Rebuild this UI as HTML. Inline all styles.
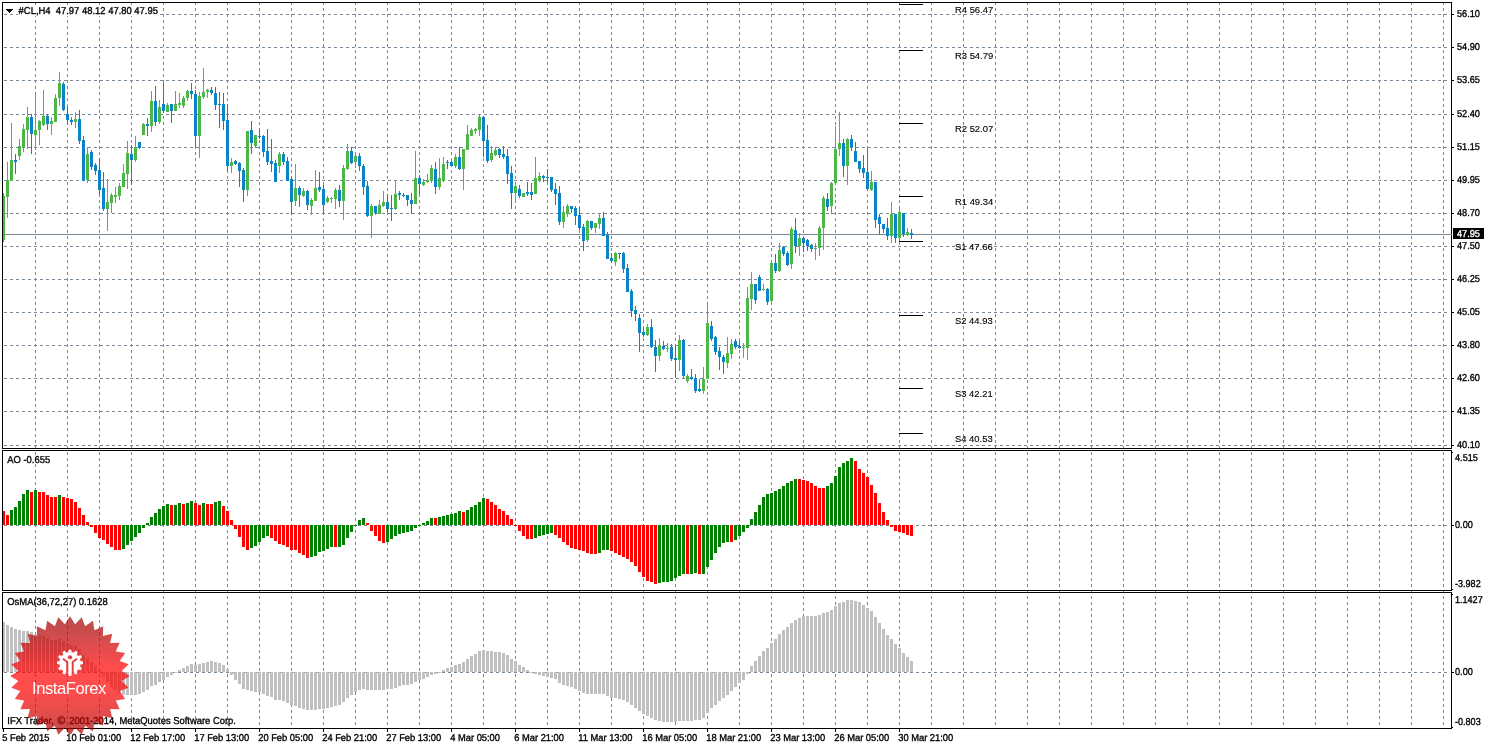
<!DOCTYPE html>
<html lang="en">
<head>
<meta charset="utf-8">
<title>#CL, H4 chart</title>
<style>
html,body{margin:0;padding:0;background:#fff;}
body{width:1491px;height:746px;overflow:hidden;font-family:"Liberation Sans",Arial,sans-serif;}
svg{display:block;}
text{white-space:pre;}
</style>
</head>
<body>
<svg width="1491" height="746" viewBox="0 0 1491 746">
<rect width="1491" height="746" fill="#fff"/>
<g id="grid" fill="none" stroke="#778899" stroke-width="1" stroke-dasharray="3 3" shape-rendering="crispEdges">
<line x1="35.5" y1="2" x2="35.5" y2="728"/>
<line x1="67.5" y1="2" x2="67.5" y2="728"/>
<line x1="99.5" y1="2" x2="99.5" y2="728"/>
<line x1="131.5" y1="2" x2="131.5" y2="728"/>
<line x1="163.5" y1="2" x2="163.5" y2="728"/>
<line x1="195.5" y1="2" x2="195.5" y2="728"/>
<line x1="227.5" y1="2" x2="227.5" y2="728"/>
<line x1="259.5" y1="2" x2="259.5" y2="728"/>
<line x1="291.5" y1="2" x2="291.5" y2="728"/>
<line x1="323.5" y1="2" x2="323.5" y2="728"/>
<line x1="355.5" y1="2" x2="355.5" y2="728"/>
<line x1="387.5" y1="2" x2="387.5" y2="728"/>
<line x1="419.5" y1="2" x2="419.5" y2="728"/>
<line x1="451.5" y1="2" x2="451.5" y2="728"/>
<line x1="483.5" y1="2" x2="483.5" y2="728"/>
<line x1="515.5" y1="2" x2="515.5" y2="728"/>
<line x1="547.5" y1="2" x2="547.5" y2="728"/>
<line x1="579.5" y1="2" x2="579.5" y2="728"/>
<line x1="611.5" y1="2" x2="611.5" y2="728"/>
<line x1="643.5" y1="2" x2="643.5" y2="728"/>
<line x1="675.5" y1="2" x2="675.5" y2="728"/>
<line x1="707.5" y1="2" x2="707.5" y2="728"/>
<line x1="739.5" y1="2" x2="739.5" y2="728"/>
<line x1="771.5" y1="2" x2="771.5" y2="728"/>
<line x1="803.5" y1="2" x2="803.5" y2="728"/>
<line x1="835.5" y1="2" x2="835.5" y2="728"/>
<line x1="867.5" y1="2" x2="867.5" y2="728"/>
<line x1="899.5" y1="2" x2="899.5" y2="728"/>
<line x1="931.5" y1="2" x2="931.5" y2="728"/>
<line x1="963.5" y1="2" x2="963.5" y2="728"/>
<line x1="995.5" y1="2" x2="995.5" y2="728"/>
<line x1="1027.5" y1="2" x2="1027.5" y2="728"/>
<line x1="1059.5" y1="2" x2="1059.5" y2="728"/>
<line x1="1091.5" y1="2" x2="1091.5" y2="728"/>
<line x1="1123.5" y1="2" x2="1123.5" y2="728"/>
<line x1="1155.5" y1="2" x2="1155.5" y2="728"/>
<line x1="1187.5" y1="2" x2="1187.5" y2="728"/>
<line x1="1219.5" y1="2" x2="1219.5" y2="728"/>
<line x1="1251.5" y1="2" x2="1251.5" y2="728"/>
<line x1="1283.5" y1="2" x2="1283.5" y2="728"/>
<line x1="1315.5" y1="2" x2="1315.5" y2="728"/>
<line x1="1347.5" y1="2" x2="1347.5" y2="728"/>
<line x1="1379.5" y1="2" x2="1379.5" y2="728"/>
<line x1="1411.5" y1="2" x2="1411.5" y2="728"/>
<line x1="1443.5" y1="2" x2="1443.5" y2="728"/>
<line x1="4" y1="14.5" x2="1450" y2="14.5"/>
<line x1="4" y1="47.5" x2="1450" y2="47.5"/>
<line x1="4" y1="80.5" x2="1450" y2="80.5"/>
<line x1="4" y1="114.5" x2="1450" y2="114.5"/>
<line x1="4" y1="147.5" x2="1450" y2="147.5"/>
<line x1="4" y1="180.5" x2="1450" y2="180.5"/>
<line x1="4" y1="213.5" x2="1450" y2="213.5"/>
<line x1="4" y1="246.5" x2="1450" y2="246.5"/>
<line x1="4" y1="279.5" x2="1450" y2="279.5"/>
<line x1="4" y1="312.5" x2="1450" y2="312.5"/>
<line x1="4" y1="345.5" x2="1450" y2="345.5"/>
<line x1="4" y1="378.5" x2="1450" y2="378.5"/>
<line x1="4" y1="411.5" x2="1450" y2="411.5"/>
<line x1="4" y1="445.5" x2="1450" y2="445.5"/>
<line x1="4" y1="525.5" x2="1450" y2="525.5"/>
<line x1="4" y1="672.5" x2="1450" y2="672.5"/>
</g>
<g id="priceline" shape-rendering="crispEdges"><rect x="3" y="234" width="1448" height="1" fill="#778899"/></g>
<g id="candles" shape-rendering="crispEdges">
<path fill="#4CB744" d="M3 193h1v49h-1zM2 196h3v44h-3zM7 162h1v56h-1zM6 180h3v17h-3zM11 123h1v58h-1zM10 160h3v21h-3zM19 139h1v21h-1zM18 146h3v10h-3zM23 124h1v28h-1zM22 129h3v18h-3zM27 107h1v42h-1zM26 117h3v13h-3zM35 94h1v56h-1zM34 130h3v5h-3zM39 120h1v25h-1zM38 121h3v9h-3zM43 90h1v36h-1zM42 116h3v9h-3zM51 117h1v18h-1zM50 121h3v3h-3zM55 94h1v28h-1zM54 98h3v24h-3zM59 72h1v34h-1zM58 83h3v15h-3zM75 112h1v16h-1zM74 119h3v3h-3zM87 147h1v36h-1zM86 154h3v26h-3zM107 179h1v52h-1zM106 202h3v7h-3zM111 193h1v20h-1zM110 195h3v8h-3zM115 187h1v16h-1zM114 195h3v2h-3zM119 183h1v17h-1zM118 186h3v10h-3zM123 164h1v23h-1zM122 173h3v14h-3zM127 141h1v48h-1zM126 153h3v21h-3zM135 136h1v26h-1zM134 147h3v13h-3zM143 123h1v12h-1zM142 124h3v11h-3zM151 91h1v41h-1zM150 101h3v25h-3zM159 100h1v24h-1zM158 107h3v15h-3zM167 103h1v9h-1zM166 105h3v7h-3zM175 91h1v20h-1zM174 104h3v7h-3zM179 93h1v15h-1zM178 103h3v2h-3zM183 96h1v12h-1zM182 98h3v8h-3zM187 90h1v11h-1zM186 91h3v7h-3zM199 92h1v66h-1zM198 96h3v40h-3zM203 68h1v31h-1zM202 92h3v5h-3zM207 89h1v9h-1zM206 90h3v2h-3zM231 158h1v15h-1zM230 162h3v4h-3zM247 131h1v65h-1zM246 131h3v59h-3zM255 135h1v13h-1zM254 135h3v11h-3zM279 152h1v21h-1zM278 154h3v12h-3zM295 164h1v42h-1zM294 188h3v13h-3zM303 188h1v9h-1zM302 191h3v5h-3zM311 198h1v17h-1zM310 200h3v6h-3zM315 170h1v31h-1zM314 188h3v13h-3zM327 196h1v7h-1zM326 198h3v4h-3zM331 197h1v6h-1zM330 198h3v1h-3zM335 188h1v21h-1zM334 190h3v9h-3zM343 165h1v55h-1zM342 168h3v33h-3zM347 144h1v26h-1zM346 151h3v18h-3zM355 154h1v14h-1zM354 156h3v6h-3zM371 204h1v34h-1zM370 206h3v10h-3zM379 200h1v14h-1zM378 205h3v9h-3zM383 191h1v16h-1zM382 202h3v4h-3zM395 180h1v30h-1zM394 194h3v15h-3zM415 151h1v53h-1zM414 178h3v26h-3zM423 179h1v7h-1zM422 182h3v3h-3zM427 174h1v9h-1zM426 180h3v2h-3zM431 165h1v18h-1zM430 168h3v13h-3zM439 158h1v32h-1zM438 178h3v9h-3zM443 157h1v25h-1zM442 164h3v17h-3zM455 154h1v14h-1zM454 157h3v9h-3zM463 149h1v41h-1zM462 149h3v20h-3zM467 125h1v25h-1zM466 134h3v16h-3zM471 128h1v8h-1zM470 130h3v6h-3zM475 128h1v6h-1zM474 129h3v2h-3zM479 114h1v22h-1zM478 117h3v13h-3zM491 146h1v16h-1zM490 153h3v7h-3zM495 147h1v9h-1zM494 150h3v5h-3zM515 185h1v16h-1zM514 186h3v7h-3zM523 193h1v4h-1zM522 193h3v4h-3zM535 157h1v37h-1zM534 178h3v16h-3zM539 172h1v10h-1zM538 176h3v4h-3zM563 206h1v22h-1zM562 212h3v10h-3zM567 204h1v13h-1zM566 206h3v8h-3zM587 220h1v22h-1zM586 221h3v19h-3zM595 223h1v10h-1zM594 223h3v5h-3zM599 214h1v15h-1zM598 218h3v6h-3zM615 252h1v14h-1zM614 253h3v9h-3zM647 324h1v12h-1zM646 327h3v8h-3zM659 338h1v23h-1zM658 345h3v11h-3zM667 343h1v9h-1zM666 348h3v1h-3zM679 335h1v36h-1zM678 340h3v20h-3zM687 374h1v9h-1zM686 376h3v5h-3zM703 367h1v27h-1zM702 379h3v12h-3zM707 304h1v75h-1zM706 323h3v56h-3zM727 337h1v31h-1zM726 353h3v10h-3zM731 339h1v20h-1zM730 344h3v10h-3zM743 343h1v15h-1zM742 347h3v1h-3zM747 287h1v73h-1zM746 298h3v50h-3zM751 272h1v38h-1zM750 284h3v15h-3zM763 284h1v7h-1zM762 289h3v1h-3zM771 261h1v42h-1zM770 263h3v38h-3zM779 243h1v29h-1zM778 250h3v21h-3zM791 227h1v42h-1zM790 229h3v35h-3zM799 233h1v23h-1zM798 238h3v8h-3zM815 243h1v17h-1zM814 248h3v1h-3zM819 226h1v30h-1zM818 228h3v20h-3zM823 196h1v54h-1zM822 198h3v30h-3zM831 182h1v32h-1zM830 183h3v23h-3zM835 126h1v59h-1zM834 149h3v34h-3zM839 112h1v44h-1zM838 143h3v6h-3zM847 138h1v47h-1zM846 139h3v27h-3zM871 171h1v20h-1zM870 182h3v8h-3zM891 202h1v41h-1zM890 214h3v22h-3zM899 209h1v34h-1zM898 212h3v26h-3zM907 228h1v8h-1zM906 232h3v3h-3z"/>
<path fill="#0A84C6" d="M15 154h1v20h-1zM14 160h3v2h-3zM31 114h1v40h-1zM30 117h3v17h-3zM47 114h1v16h-1zM46 116h3v8h-3zM63 82h1v29h-1zM62 84h3v26h-3zM67 107h1v18h-1zM66 114h3v6h-3zM71 117h1v8h-1zM70 120h3v2h-3zM79 110h1v34h-1zM78 119h3v22h-3zM83 136h1v45h-1zM82 140h3v41h-3zM91 150h1v20h-1zM90 152h3v15h-3zM95 163h1v12h-1zM94 165h3v6h-3zM99 158h1v36h-1zM98 170h3v20h-3zM103 172h1v39h-1zM102 188h3v21h-3zM131 145h1v40h-1zM130 154h3v6h-3zM139 142h1v7h-1zM138 142h3v6h-3zM147 118h1v18h-1zM146 124h3v2h-3zM155 86h1v40h-1zM154 101h3v21h-3zM163 83h1v30h-1zM162 104h3v7h-3zM171 104h1v19h-1zM170 104h3v7h-3zM191 83h1v16h-1zM190 91h3v3h-3zM195 90h1v57h-1zM194 94h3v42h-3zM211 87h1v8h-1zM210 90h3v3h-3zM215 87h1v23h-1zM214 93h3v12h-3zM219 92h1v36h-1zM218 104h3v1h-3zM223 93h1v37h-1zM222 104h3v17h-3zM227 105h1v66h-1zM226 120h3v46h-3zM235 160h1v5h-1zM234 161h3v3h-3zM239 162h1v25h-1zM238 163h3v8h-3zM243 168h1v34h-1zM242 170h3v20h-3zM251 121h1v33h-1zM250 130h3v13h-3zM259 128h1v11h-1zM258 136h3v1h-3zM263 135h1v22h-1zM262 136h3v16h-3zM267 129h1v36h-1zM266 151h3v11h-3zM271 139h1v33h-1zM270 161h3v3h-3zM275 160h1v22h-1zM274 163h3v19h-3zM283 152h1v13h-1zM282 154h3v8h-3zM287 157h1v24h-1zM286 161h3v20h-3zM291 177h1v38h-1zM290 179h3v23h-3zM299 186h1v21h-1zM298 188h3v7h-3zM307 190h1v20h-1zM306 191h3v14h-3zM319 172h1v20h-1zM318 187h3v3h-3zM323 185h1v29h-1zM322 189h3v16h-3zM339 185h1v22h-1zM338 190h3v11h-3zM351 147h1v17h-1zM350 151h3v12h-3zM359 153h1v18h-1zM358 156h3v10h-3zM363 164h1v31h-1zM362 166h3v21h-3zM367 181h1v36h-1zM366 186h3v30h-3zM375 206h1v9h-1zM374 206h3v7h-3zM387 194h1v18h-1zM386 202h3v7h-3zM391 195h1v26h-1zM390 208h3v1h-3zM399 191h1v9h-1zM398 193h3v2h-3zM403 193h1v4h-1zM402 195h3v1h-3zM407 195h1v11h-1zM406 195h3v5h-3zM411 193h1v21h-1zM410 200h3v4h-3zM419 175h1v19h-1zM418 178h3v6h-3zM435 162h1v32h-1zM434 169h3v18h-3zM447 160h1v9h-1zM446 162h3v1h-3zM451 161h1v6h-1zM450 162h3v4h-3zM459 147h1v23h-1zM458 157h3v12h-3zM483 116h1v41h-1zM482 117h3v24h-3zM487 125h1v38h-1zM486 140h3v21h-3zM499 148h1v10h-1zM498 149h3v6h-3zM503 146h1v13h-1zM502 154h3v3h-3zM507 149h1v35h-1zM506 156h3v18h-3zM511 166h1v43h-1zM510 173h3v20h-3zM519 185h1v13h-1zM518 189h3v7h-3zM527 182h1v14h-1zM526 192h3v2h-3zM531 183h1v17h-1zM530 192h3v3h-3zM543 175h1v7h-1zM542 176h3v2h-3zM547 169h1v13h-1zM546 177h3v1h-3zM551 177h1v15h-1zM550 177h3v13h-3zM555 183h1v22h-1zM554 189h3v5h-3zM559 186h1v39h-1zM558 193h3v29h-3zM571 206h1v7h-1zM570 206h3v3h-3zM575 206h1v19h-1zM574 208h3v8h-3zM579 207h1v23h-1zM578 215h3v13h-3zM583 224h1v27h-1zM582 227h3v14h-3zM591 221h1v9h-1zM590 221h3v7h-3zM603 212h1v24h-1zM602 218h3v18h-3zM607 232h1v27h-1zM606 235h3v24h-3zM611 253h1v10h-1zM610 258h3v3h-3zM619 253h1v6h-1zM618 253h3v1h-3zM623 252h1v21h-1zM622 253h3v16h-3zM627 264h1v28h-1zM626 268h3v24h-3zM631 289h1v28h-1zM630 291h3v20h-3zM635 306h1v15h-1zM634 310h3v4h-3zM639 314h1v38h-1zM638 318h3v15h-3zM643 328h1v9h-1zM642 332h3v3h-3zM651 319h1v29h-1zM650 327h3v20h-3zM655 340h1v32h-1zM654 347h3v9h-3zM663 341h1v9h-1zM662 346h3v3h-3zM671 344h1v17h-1zM670 347h3v12h-3zM675 346h1v32h-1zM674 358h3v2h-3zM683 339h1v39h-1zM682 340h3v36h-3zM691 369h1v11h-1zM690 377h3v2h-3zM695 374h1v19h-1zM694 378h3v13h-3zM699 379h1v13h-1zM698 389h3v2h-3zM711 321h1v20h-1zM710 326h3v13h-3zM715 336h1v19h-1zM714 337h3v15h-3zM719 347h1v23h-1zM718 351h3v6h-3zM723 355h1v19h-1zM722 357h3v5h-3zM735 339h1v10h-1zM734 341h3v6h-3zM739 341h1v8h-1zM738 346h3v2h-3zM755 284h1v20h-1zM754 284h3v16h-3zM759 275h1v16h-1zM758 277h3v14h-3zM767 288h1v17h-1zM766 289h3v13h-3zM775 254h1v19h-1zM774 263h3v8h-3zM783 246h1v10h-1zM782 247h3v7h-3zM787 251h1v15h-1zM786 253h3v12h-3zM795 218h1v35h-1zM794 230h3v16h-3zM803 237h1v15h-1zM802 238h3v5h-3zM807 239h1v12h-1zM806 240h3v6h-3zM811 244h1v8h-1zM810 245h3v4h-3zM827 193h1v18h-1zM826 199h3v8h-3zM843 139h1v38h-1zM842 143h3v23h-3zM851 135h1v16h-1zM850 139h3v8h-3zM855 142h1v20h-1zM854 151h3v11h-3zM859 161h1v12h-1zM858 161h3v8h-3zM863 155h1v23h-1zM862 168h3v5h-3zM867 149h1v42h-1zM866 172h3v17h-3zM875 182h1v46h-1zM874 182h3v38h-3zM879 214h1v20h-1zM878 217h3v7h-3zM883 224h1v9h-1zM882 224h3v5h-3zM887 218h1v22h-1zM886 228h3v8h-3zM895 214h1v29h-1zM894 214h3v24h-3zM903 213h1v24h-1zM902 213h3v21h-3zM911 229h1v10h-1zM910 233h3v2h-3z"/>
</g>
<g id="ao" shape-rendering="crispEdges">
<path fill="#008000" d="M10 510h3v15h-3zM14 507h3v18h-3zM18 501h3v24h-3zM22 494h3v31h-3zM26 490h3v35h-3zM34 490h3v35h-3zM58 495h3v30h-3zM122 525h3v24h-3zM126 525h3v20h-3zM130 525h3v16h-3zM134 525h3v12h-3zM138 525h3v8h-3zM142 525h3v3h-3zM146 523h3v2h-3zM150 517h3v8h-3zM154 513h3v12h-3zM158 509h3v16h-3zM162 506h3v19h-3zM166 504h3v21h-3zM174 505h3v20h-3zM178 503h3v22h-3zM186 503h3v22h-3zM190 501h3v24h-3zM202 503h3v22h-3zM214 502h3v23h-3zM218 501h3v24h-3zM250 525h3v23h-3zM254 525h3v21h-3zM258 525h3v17h-3zM262 525h3v13h-3zM266 525h3v11h-3zM310 525h3v32h-3zM314 525h3v31h-3zM318 525h3v27h-3zM322 525h3v26h-3zM326 525h3v24h-3zM330 525h3v22h-3zM338 525h3v22h-3zM342 525h3v20h-3zM346 525h3v13h-3zM350 525h3v7h-3zM354 525h3v1h-3zM358 520h3v5h-3zM362 518h3v7h-3zM386 525h3v17h-3zM390 525h3v14h-3zM394 525h3v11h-3zM398 525h3v9h-3zM402 525h3v8h-3zM406 525h3v7h-3zM410 525h3v6h-3zM414 525h3v3h-3zM418 525h3v1h-3zM422 523h3v2h-3zM426 521h3v4h-3zM430 518h3v7h-3zM438 517h3v8h-3zM442 516h3v9h-3zM446 515h3v10h-3zM450 514h3v11h-3zM454 513h3v12h-3zM458 511h3v14h-3zM466 510h3v15h-3zM470 507h3v18h-3zM474 505h3v20h-3zM478 502h3v23h-3zM482 498h3v27h-3zM534 525h3v13h-3zM538 525h3v11h-3zM542 525h3v10h-3zM546 525h3v9h-3zM550 525h3v8h-3zM598 525h3v28h-3zM602 525h3v25h-3zM606 525h3v25h-3zM658 525h3v58h-3zM662 525h3v57h-3zM666 525h3v57h-3zM670 525h3v56h-3zM674 525h3v53h-3zM678 525h3v51h-3zM682 525h3v49h-3zM690 525h3v49h-3zM694 525h3v48h-3zM702 525h3v49h-3zM706 525h3v42h-3zM710 525h3v35h-3zM714 525h3v28h-3zM718 525h3v22h-3zM722 525h3v18h-3zM726 525h3v17h-3zM734 525h3v15h-3zM738 525h3v11h-3zM742 525h3v7h-3zM746 525h3v3h-3zM750 519h3v6h-3zM754 512h3v13h-3zM758 505h3v20h-3zM762 497h3v28h-3zM766 494h3v31h-3zM770 493h3v32h-3zM774 491h3v34h-3zM778 489h3v36h-3zM782 486h3v39h-3zM786 483h3v42h-3zM790 481h3v44h-3zM794 479h3v46h-3zM826 486h3v39h-3zM830 483h3v42h-3zM834 476h3v49h-3zM838 467h3v58h-3zM842 463h3v62h-3zM846 461h3v64h-3zM850 458h3v67h-3z"/>
<path fill="#FF0000" d="M2 511h3v14h-3zM6 515h3v10h-3zM30 492h3v33h-3zM38 492h3v33h-3zM42 492h3v33h-3zM46 495h3v30h-3zM50 497h3v28h-3zM54 497h3v28h-3zM62 497h3v28h-3zM66 498h3v27h-3zM70 499h3v26h-3zM74 502h3v23h-3zM78 508h3v17h-3zM82 515h3v10h-3zM86 522h3v3h-3zM90 525h3v2h-3zM94 525h3v8h-3zM98 525h3v13h-3zM102 525h3v15h-3zM106 525h3v19h-3zM110 525h3v22h-3zM114 525h3v25h-3zM118 525h3v25h-3zM170 505h3v20h-3zM182 504h3v21h-3zM194 503h3v22h-3zM198 505h3v20h-3zM206 504h3v21h-3zM210 504h3v21h-3zM222 506h3v19h-3zM226 511h3v14h-3zM230 520h3v5h-3zM234 525h3v4h-3zM238 525h3v12h-3zM242 525h3v22h-3zM246 525h3v25h-3zM270 525h3v13h-3zM274 525h3v16h-3zM278 525h3v19h-3zM282 525h3v20h-3zM286 525h3v22h-3zM290 525h3v25h-3zM294 525h3v25h-3zM298 525h3v28h-3zM302 525h3v30h-3zM306 525h3v33h-3zM334 525h3v22h-3zM366 523h3v2h-3zM370 525h3v6h-3zM374 525h3v11h-3zM378 525h3v16h-3zM382 525h3v18h-3zM434 518h3v7h-3zM462 512h3v13h-3zM486 499h3v26h-3zM490 502h3v23h-3zM494 505h3v20h-3zM498 509h3v16h-3zM502 511h3v14h-3zM506 515h3v10h-3zM510 519h3v6h-3zM514 525h3v1h-3zM518 525h3v6h-3zM522 525h3v11h-3zM526 525h3v14h-3zM530 525h3v14h-3zM554 525h3v10h-3zM558 525h3v13h-3zM562 525h3v17h-3zM566 525h3v20h-3zM570 525h3v23h-3zM574 525h3v24h-3zM578 525h3v25h-3zM582 525h3v26h-3zM586 525h3v28h-3zM590 525h3v29h-3zM594 525h3v29h-3zM610 525h3v26h-3zM614 525h3v28h-3zM618 525h3v30h-3zM622 525h3v32h-3zM626 525h3v34h-3zM630 525h3v37h-3zM634 525h3v41h-3zM638 525h3v47h-3zM642 525h3v52h-3zM646 525h3v56h-3zM650 525h3v57h-3zM654 525h3v59h-3zM686 525h3v49h-3zM698 525h3v49h-3zM730 525h3v17h-3zM798 479h3v46h-3zM802 480h3v45h-3zM806 481h3v44h-3zM810 483h3v42h-3zM814 486h3v39h-3zM818 488h3v37h-3zM822 488h3v37h-3zM854 461h3v64h-3zM858 469h3v56h-3zM862 473h3v52h-3zM866 477h3v48h-3zM870 485h3v40h-3zM874 493h3v32h-3zM878 503h3v22h-3zM882 512h3v13h-3zM886 520h3v5h-3zM890 525h3v2h-3zM894 525h3v6h-3zM898 525h3v7h-3zM902 525h3v8h-3zM906 525h3v10h-3zM910 525h3v11h-3z"/>
</g>
<g id="osma" shape-rendering="crispEdges"><path fill="#C0C0C0" d="M2 622h3v50h-3zM6 625h3v47h-3zM10 627h3v45h-3zM14 629h3v43h-3zM18 630h3v42h-3zM22 631h3v41h-3zM26 631h3v41h-3zM30 632h3v40h-3zM34 634h3v38h-3zM38 635h3v37h-3zM42 636h3v36h-3zM46 638h3v34h-3zM50 640h3v32h-3zM54 640h3v32h-3zM58 639h3v33h-3zM62 641h3v31h-3zM66 643h3v29h-3zM70 645h3v27h-3zM74 646h3v26h-3zM78 649h3v23h-3zM82 655h3v17h-3zM86 658h3v14h-3zM90 662h3v10h-3zM94 666h3v6h-3zM98 670h3v2h-3zM102 672h3v5h-3zM106 672h3v10h-3zM110 672h3v15h-3zM114 672h3v18h-3zM118 672h3v21h-3zM122 672h3v23h-3zM126 672h3v23h-3zM130 672h3v23h-3zM134 672h3v23h-3zM138 672h3v22h-3zM142 672h3v20h-3zM146 672h3v18h-3zM150 672h3v14h-3zM154 672h3v13h-3zM158 672h3v10h-3zM162 672h3v8h-3zM166 672h3v5h-3zM170 672h3v3h-3zM174 672h3v1h-3zM178 670h3v2h-3zM182 668h3v4h-3zM186 666h3v6h-3zM190 664h3v8h-3zM194 665h3v7h-3zM198 664h3v8h-3zM202 663h3v9h-3zM206 662h3v10h-3zM210 661h3v11h-3zM214 662h3v10h-3zM218 663h3v9h-3zM222 665h3v7h-3zM226 669h3v3h-3zM230 672h3v3h-3zM234 672h3v8h-3zM238 672h3v12h-3zM242 672h3v17h-3zM246 672h3v18h-3zM250 672h3v19h-3zM254 672h3v20h-3zM258 672h3v20h-3zM262 672h3v22h-3zM266 672h3v24h-3zM270 672h3v25h-3zM274 672h3v28h-3zM278 672h3v28h-3zM282 672h3v29h-3zM286 672h3v31h-3zM290 672h3v33h-3zM294 672h3v34h-3zM298 672h3v36h-3zM302 672h3v37h-3zM306 672h3v38h-3zM310 672h3v38h-3zM314 672h3v38h-3zM318 672h3v37h-3zM322 672h3v37h-3zM326 672h3v36h-3zM330 672h3v35h-3zM334 672h3v34h-3zM338 672h3v33h-3zM342 672h3v30h-3zM346 672h3v26h-3zM350 672h3v23h-3zM354 672h3v20h-3zM358 672h3v18h-3zM362 672h3v17h-3zM366 672h3v18h-3zM370 672h3v18h-3zM374 672h3v18h-3zM378 672h3v18h-3zM382 672h3v18h-3zM386 672h3v17h-3zM390 672h3v17h-3zM394 672h3v16h-3zM398 672h3v14h-3zM402 672h3v13h-3zM406 672h3v13h-3zM410 672h3v12h-3zM414 672h3v10h-3zM418 672h3v8h-3zM422 672h3v7h-3zM426 672h3v5h-3zM430 672h3v3h-3zM434 672h3v2h-3zM438 672h3v1h-3zM442 670h3v2h-3zM446 668h3v4h-3zM450 667h3v5h-3zM454 665h3v7h-3zM458 664h3v8h-3zM462 662h3v10h-3zM466 659h3v13h-3zM470 656h3v16h-3zM474 654h3v18h-3zM478 651h3v21h-3zM482 650h3v22h-3zM486 651h3v21h-3zM490 651h3v21h-3zM494 652h3v20h-3zM498 652h3v20h-3zM502 653h3v19h-3zM506 655h3v17h-3zM510 659h3v13h-3zM514 661h3v11h-3zM518 665h3v7h-3zM522 667h3v5h-3zM526 670h3v2h-3zM530 672h3v1h-3zM534 672h3v2h-3zM538 672h3v3h-3zM542 672h3v4h-3zM546 672h3v5h-3zM550 672h3v6h-3zM554 672h3v7h-3zM558 672h3v11h-3zM562 672h3v13h-3zM566 672h3v14h-3zM570 672h3v15h-3zM574 672h3v17h-3zM578 672h3v19h-3zM582 672h3v21h-3zM586 672h3v22h-3zM590 672h3v22h-3zM594 672h3v22h-3zM598 672h3v22h-3zM602 672h3v22h-3zM606 672h3v24h-3zM610 672h3v26h-3zM614 672h3v26h-3zM618 672h3v27h-3zM622 672h3v28h-3zM626 672h3v30h-3zM630 672h3v33h-3zM634 672h3v36h-3zM638 672h3v39h-3zM642 672h3v42h-3zM646 672h3v44h-3zM650 672h3v46h-3zM654 672h3v48h-3zM658 672h3v49h-3zM662 672h3v50h-3zM666 672h3v50h-3zM670 672h3v50h-3zM674 672h3v50h-3zM678 672h3v49h-3zM682 672h3v49h-3zM686 672h3v49h-3zM690 672h3v49h-3zM694 672h3v48h-3zM698 672h3v48h-3zM702 672h3v46h-3zM706 672h3v41h-3zM710 672h3v36h-3zM714 672h3v33h-3zM718 672h3v29h-3zM722 672h3v26h-3zM726 672h3v23h-3zM730 672h3v19h-3zM734 672h3v15h-3zM738 672h3v11h-3zM742 672h3v8h-3zM746 672h3v2h-3zM750 666h3v6h-3zM754 661h3v11h-3zM758 656h3v16h-3zM762 651h3v21h-3zM766 648h3v24h-3zM770 643h3v29h-3zM774 639h3v33h-3zM778 634h3v38h-3zM782 630h3v42h-3zM786 627h3v45h-3zM790 623h3v49h-3zM794 620h3v52h-3zM798 618h3v54h-3zM802 616h3v56h-3zM806 616h3v56h-3zM810 616h3v56h-3zM814 616h3v56h-3zM818 615h3v57h-3zM822 613h3v59h-3zM826 612h3v60h-3zM830 610h3v62h-3zM834 606h3v66h-3zM838 603h3v69h-3zM842 602h3v70h-3zM846 600h3v72h-3zM850 600h3v72h-3zM854 601h3v71h-3zM858 602h3v70h-3zM862 605h3v67h-3zM866 608h3v64h-3zM870 611h3v61h-3zM874 617h3v55h-3zM878 623h3v49h-3zM882 629h3v43h-3zM886 635h3v37h-3zM890 639h3v33h-3zM894 644h3v28h-3zM898 648h3v24h-3zM902 653h3v19h-3zM906 657h3v15h-3zM910 661h3v11h-3z"/></g>
<g id="frame" shape-rendering="crispEdges"><rect x="899" y="4" width="24" height="1" fill="#000"/>
<rect x="899" y="50" width="24" height="1" fill="#000"/>
<rect x="899" y="123" width="24" height="1" fill="#000"/>
<rect x="899" y="196" width="24" height="1" fill="#000"/>
<rect x="899" y="241" width="24" height="1" fill="#000"/>
<rect x="899" y="315" width="24" height="1" fill="#000"/>
<rect x="899" y="388" width="24" height="1" fill="#000"/>
<rect x="899" y="433" width="24" height="1" fill="#000"/>
<rect x="3" y="449" width="1448" height="1" fill="#fff"/>
<rect x="2" y="2" width="1450" height="1" fill="#000"/>
<rect x="2" y="448" width="1450" height="1" fill="#000"/>
<rect x="2" y="2" width="1" height="447" fill="#000"/>
<rect x="1451" y="2" width="1" height="447" fill="#000"/>
<rect x="2" y="450" width="1450" height="1" fill="#000"/>
<rect x="2" y="590" width="1450" height="1" fill="#000"/>
<rect x="2" y="450" width="1" height="141" fill="#000"/>
<rect x="1451" y="450" width="1" height="141" fill="#000"/>
<rect x="2" y="592" width="1450" height="1" fill="#000"/>
<rect x="2" y="728" width="1450" height="1" fill="#000"/>
<rect x="2" y="592" width="1" height="137" fill="#000"/>
<rect x="1451" y="592" width="1" height="137" fill="#000"/>
<rect x="1452" y="14" width="2" height="1" fill="#000"/>
<rect x="1452" y="47" width="2" height="1" fill="#000"/>
<rect x="1452" y="80" width="2" height="1" fill="#000"/>
<rect x="1452" y="114" width="2" height="1" fill="#000"/>
<rect x="1452" y="147" width="2" height="1" fill="#000"/>
<rect x="1452" y="180" width="2" height="1" fill="#000"/>
<rect x="1452" y="213" width="2" height="1" fill="#000"/>
<rect x="1452" y="246" width="2" height="1" fill="#000"/>
<rect x="1452" y="279" width="2" height="1" fill="#000"/>
<rect x="1452" y="312" width="2" height="1" fill="#000"/>
<rect x="1452" y="345" width="2" height="1" fill="#000"/>
<rect x="1452" y="378" width="2" height="1" fill="#000"/>
<rect x="1452" y="411" width="2" height="1" fill="#000"/>
<rect x="1452" y="445" width="2" height="1" fill="#000"/>
<rect x="1452" y="525" width="2" height="1" fill="#000"/>
<rect x="1452" y="672" width="2" height="1" fill="#000"/>
<rect x="1452" y="452" width="1" height="1" fill="#000"/>
<rect x="1452" y="589" width="1" height="1" fill="#000"/>
<rect x="1452" y="594" width="1" height="1" fill="#000"/>
<rect x="1452" y="727" width="1" height="1" fill="#000"/>
<rect x="3" y="729" width="1" height="3" fill="#000"/>
<rect x="67" y="729" width="1" height="3" fill="#000"/>
<rect x="131" y="729" width="1" height="3" fill="#000"/>
<rect x="195" y="729" width="1" height="3" fill="#000"/>
<rect x="259" y="729" width="1" height="3" fill="#000"/>
<rect x="323" y="729" width="1" height="3" fill="#000"/>
<rect x="387" y="729" width="1" height="3" fill="#000"/>
<rect x="451" y="729" width="1" height="3" fill="#000"/>
<rect x="515" y="729" width="1" height="3" fill="#000"/>
<rect x="579" y="729" width="1" height="3" fill="#000"/>
<rect x="643" y="729" width="1" height="3" fill="#000"/>
<rect x="707" y="729" width="1" height="3" fill="#000"/>
<rect x="771" y="729" width="1" height="3" fill="#000"/>
<rect x="835" y="729" width="1" height="3" fill="#000"/>
<rect x="899" y="729" width="1" height="3" fill="#000"/>
<rect x="1453" y="228" width="31" height="11" fill="#000"/>
<rect x="1451" y="234" width="1" height="1" fill="#778899"/>
<path d="M6 9h7v1h-1v1h-1v1h-1v1h-1v-1h-1v-1h-1v-1h-1z" fill="#000"/></g>
<g id="labels" fill="#000" stroke="#000" stroke-width="0.35" paint-order="stroke" text-rendering="geometricPrecision" font-family="'Liberation Sans', Arial, sans-serif" font-size="10.0"><rect x="18" y="5" width="141" height="11" fill="#fff" stroke="none"/>
<text transform="translate(18.6 14) scale(0.942 1)">#CL,H4  47.97 48.12 47.80 47.95</text>
<text transform="translate(1456.9 17) scale(0.92 1)">56.10</text>
<text transform="translate(1456.9 50) scale(0.92 1)">54.90</text>
<text transform="translate(1456.9 83) scale(0.92 1)">53.65</text>
<text transform="translate(1456.9 117) scale(0.92 1)">52.40</text>
<text transform="translate(1456.9 150) scale(0.92 1)">51.15</text>
<text transform="translate(1456.9 183) scale(0.92 1)">49.95</text>
<text transform="translate(1456.9 216) scale(0.92 1)">48.70</text>
<text transform="translate(1456.9 249) scale(0.92 1)">47.50</text>
<text transform="translate(1456.9 282) scale(0.92 1)">46.25</text>
<text transform="translate(1456.9 315) scale(0.92 1)">45.05</text>
<text transform="translate(1456.9 348) scale(0.92 1)">43.80</text>
<text transform="translate(1456.9 381) scale(0.92 1)">42.60</text>
<text transform="translate(1456.9 414) scale(0.92 1)">41.35</text>
<text transform="translate(1456.9 448) scale(0.92 1)">40.10</text>
<text transform="translate(1456.9 237) scale(0.92 1)" fill="#fff" stroke="#fff">47.95</text>
<text transform="translate(7.3 463) scale(0.94 1)">AO -0.655</text>
<text transform="translate(7.3 605) scale(0.94 1)">OsMA(36,72,27) 0.1628</text>
<text transform="translate(7.3 724) scale(0.94 1)"><tspan x="0">IFX Trader, </tspan><tspan x="53.51" font-size="11.2">©</tspan><tspan x="63.09"> 2001-2014, MetaQuotes Software Corp.</tspan></text>
<text transform="translate(1455 461) scale(0.915 1)">4.515</text>
<text transform="translate(1455 528) scale(0.915 1)">0.00</text>
<text transform="translate(1455 587) scale(0.905 1)">-3.982</text>
<text transform="translate(1455 603) scale(0.905 1)">1.1427</text>
<text transform="translate(1455 675) scale(0.915 1)">0.00</text>
<text transform="translate(1455 725) scale(0.905 1)">-0.803</text></g>
<g id="pivots" fill="#000" stroke="#000" stroke-width="0.12" font-family="'Liberation Sans', Arial, sans-serif" font-size="9.42"><text x="955" y="13.2">R4 56.47</text>
<text x="955" y="59.2">R3 54.79</text>
<text x="955" y="132.2">R2 52.07</text>
<text x="955" y="205.2">R1 49.34</text>
<text x="955" y="250.2">S1 47.66</text>
<text x="955" y="324.2">S2 44.93</text>
<text x="955" y="397.2">S3 42.21</text>
<text x="955" y="442.2">S4 40.53</text></g>
<defs>
<linearGradient id="bg" gradientUnits="userSpaceOnUse" x1="0" y1="617" x2="0" y2="736"><stop offset="0.000" stop-color="rgb(162,0,0)"/><stop offset="0.109" stop-color="rgb(176,0,0)"/><stop offset="0.235" stop-color="rgb(208,0,0)"/><stop offset="0.361" stop-color="rgb(240,0,0)"/><stop offset="0.429" stop-color="rgb(255,0,0)"/><stop offset="0.613" stop-color="rgb(255,0,0)"/><stop offset="0.739" stop-color="rgb(232,0,0)"/><stop offset="0.908" stop-color="rgb(186,0,0)"/><stop offset="1.000" stop-color="rgb(172,0,0)"/></linearGradient>
<mask id="gm" maskUnits="userSpaceOnUse" x="50" y="645" width="40" height="35"><g fill="#fff"><circle cx="70.0" cy="662.7" r="10.7"/><path d="M-1.75 -10.10L-1.25 -13.00H1.25L1.75 -10.10z" transform="translate(70.0 662.7) rotate(0)"/><path d="M-1.75 -10.10L-1.25 -13.00H1.25L1.75 -10.10z" transform="translate(70.0 662.7) rotate(30)"/><path d="M-1.75 -10.10L-1.25 -13.00H1.25L1.75 -10.10z" transform="translate(70.0 662.7) rotate(60)"/><path d="M-1.75 -10.10L-1.25 -13.00H1.25L1.75 -10.10z" transform="translate(70.0 662.7) rotate(90)"/><path d="M-1.75 -10.10L-1.25 -13.00H1.25L1.75 -10.10z" transform="translate(70.0 662.7) rotate(120)"/><path d="M-1.75 -10.10L-1.25 -13.00H1.25L1.75 -10.10z" transform="translate(70.0 662.7) rotate(150)"/><path d="M-1.75 -10.10L-1.25 -13.00H1.25L1.75 -10.10z" transform="translate(70.0 662.7) rotate(180)"/><path d="M-1.75 -10.10L-1.25 -13.00H1.25L1.75 -10.10z" transform="translate(70.0 662.7) rotate(210)"/><path d="M-1.75 -10.10L-1.25 -13.00H1.25L1.75 -10.10z" transform="translate(70.0 662.7) rotate(240)"/><path d="M-1.75 -10.10L-1.25 -13.00H1.25L1.75 -10.10z" transform="translate(70.0 662.7) rotate(270)"/><path d="M-1.75 -10.10L-1.25 -13.00H1.25L1.75 -10.10z" transform="translate(70.0 662.7) rotate(300)"/><path d="M-1.75 -10.10L-1.25 -13.00H1.25L1.75 -10.10z" transform="translate(70.0 662.7) rotate(330)"/><rect x="68.45" y="662" width="3.1" height="13.8"/></g><circle cx="70.0" cy="657.3" r="2.15" fill="#000"/><path d="M63.0 658.7L67.25 661.9V676.5M77.0 658.7L72.75 661.9V676.5" fill="none" stroke="#000" stroke-width="2"/></mask>
</defs>
<g id="logo">
<polygon points="70.0,616.2 75.1,624.3 81.7,617.3 85.1,626.3 92.9,620.8 94.5,630.2 103.2,626.3 102.9,635.9 112.3,633.7 110.1,643.1 119.7,642.8 115.8,651.5 125.2,653.1 119.7,660.9 128.7,664.3 121.7,670.9 129.8,676.0 121.7,681.1 128.7,687.7 119.7,691.1 125.2,698.9 115.8,700.5 119.7,709.2 110.1,708.9 112.3,718.3 102.9,716.1 103.2,725.7 94.5,721.8 92.9,731.2 85.1,725.7 81.7,734.7 75.1,727.7 70.0,735.8 64.9,727.7 58.3,734.7 54.9,725.7 47.1,731.2 45.5,721.8 36.8,725.7 37.1,716.1 27.7,718.3 29.9,708.9 20.3,709.2 24.2,700.5 14.8,698.9 20.3,691.1 11.3,687.7 18.3,681.1 10.2,676.0 18.3,670.9 11.3,664.3 20.3,660.9 14.8,653.1 24.2,651.5 20.3,642.8 29.9,643.1 27.7,633.7 37.1,635.9 36.8,626.3 45.5,630.2 47.1,620.8 54.9,626.3 58.3,617.3 64.9,624.3" fill="url(#bg)" fill-opacity="0.7"/>
<rect x="50" y="645" width="40" height="35" fill="#fff" mask="url(#gm)"/>
<text x="32.0" y="694" fill="#fff" font-family="'Liberation Sans', Arial, sans-serif" font-size="16.6" letter-spacing="-0.45">InstaForex</text>
</g>
<g id="dates" fill="#000" stroke="#000" stroke-width="0.35" paint-order="stroke" text-rendering="geometricPrecision" font-family="'Liberation Sans', Arial, sans-serif" font-size="10.0"><rect x="3" y="734" width="48" height="12" fill="#fff" stroke="none"/>
<rect x="66" y="734" width="56" height="12" fill="#fff" stroke="none"/>
<text transform="translate(2.2 741) scale(0.933 1)">5 Feb 2015</text>
<text transform="translate(66.2 741) scale(0.933 1)">10 Feb 01:00</text>
<text transform="translate(130.2 741) scale(0.933 1)">12 Feb 17:00</text>
<text transform="translate(194.2 741) scale(0.933 1)">17 Feb 13:00</text>
<text transform="translate(258.2 741) scale(0.933 1)">20 Feb 05:00</text>
<text transform="translate(322.2 741) scale(0.933 1)">24 Feb 21:00</text>
<text transform="translate(386.2 741) scale(0.933 1)">27 Feb 13:00</text>
<text transform="translate(450.2 741) scale(0.933 1)">4 Mar 05:00</text>
<text transform="translate(514.2 741) scale(0.933 1)">6 Mar 21:00</text>
<text transform="translate(578.2 741) scale(0.933 1)">11 Mar 13:00</text>
<text transform="translate(642.2 741) scale(0.933 1)">16 Mar 05:00</text>
<text transform="translate(706.2 741) scale(0.933 1)">18 Mar 21:00</text>
<text transform="translate(770.2 741) scale(0.933 1)">23 Mar 13:00</text>
<text transform="translate(834.2 741) scale(0.933 1)">26 Mar 05:00</text>
<text transform="translate(898.2 741) scale(0.933 1)">30 Mar 21:00</text></g>
</svg>
</body>
</html>
